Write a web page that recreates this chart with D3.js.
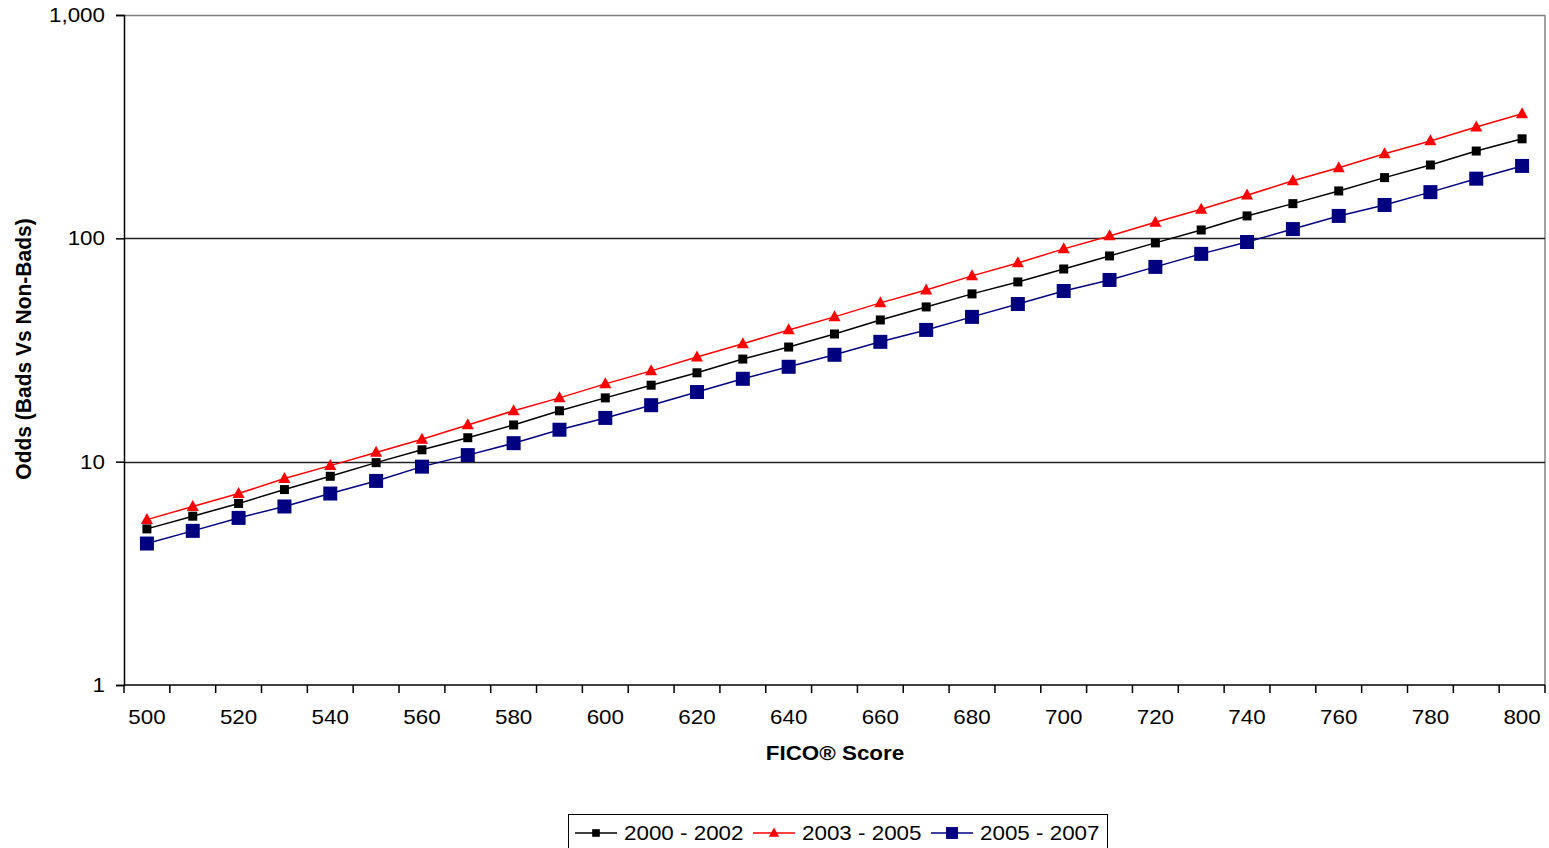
<!DOCTYPE html>
<html><head><meta charset="utf-8">
<script src="https://cdn.jsdelivr.net/npm/d3@7"></script>
<style>body{margin:0;background:#fff}svg{display:block}text{font-family:"Liberation Sans",Arial,sans-serif}</style>
</head><body><svg id="c" width="1549" height="848"></svg>
<script>
const scores = [500,510,520,530,540,550,560,570,580,590,600,610,620,630,640,650,660,670,680,690,700,710,720,730,740,750,760,770,780,790,800];
const odds2000 = [5.0,5.7,6.5,7.5,8.6,9.9,11.3,12.8,14.6,16.9,19.3,22.0,25.0,28.8,32.6,37.3,43.1,49.3,56.4,63.8,72.9,83.4,95.4,109,126,143,163,187,213,246,279];
const odds2003 = [5.5,6.3,7.2,8.4,9.6,11.0,12.6,14.6,16.9,19.3,22.3,25.5,29.4,33.7,38.9,44.5,51.4,58.7,67.9,77.6,89.7,102.5,118,135,156,181,207,239,273,315,361];
const odds2005 = [4.3,4.9,5.6,6.3,7.2,8.2,9.5,10.7,12.1,13.9,15.7,17.9,20.5,23.5,26.6,30.1,34.4,38.9,44.5,50.8,58.1,65.1,74.5,85.2,96.3,110,126,141,161,185,211];
const seriesNames = ["2000 - 2002","2003 - 2005","2005 - 2007"];
const yTicks = [1,10,100,1000];
const xLabels = [500,520,540,560,580,600,620,640,660,680,700,720,740,760,780,800];

const svg = d3.select("#c");
const L=124, R=1545, T=15, B=685;
const SX = 1.12;
const x = d3.scaleBand().domain(scores).range([L,R]);
const y = d3.scaleLog().domain([1,1000]).range([B,T]);

function stext(parent, tx, ty, str, anchor, size, bold){
  const g = parent.append("g").attr("transform",`translate(${tx},${ty}) scale(${SX},1)`);
  g.append("text").attr("text-anchor",anchor).attr("font-size",size)
    .attr("font-weight",bold?"bold":"normal").attr("fill","#000").text(str);
  return g;
}

// plot border (top/right gray)
svg.append("line").attr("x1",L).attr("x2",R).attr("y1",T+0.5).attr("y2",T+0.5).attr("stroke","#808080").attr("stroke-width",1.5);
svg.append("line").attr("x1",R).attr("x2",R).attr("y1",T).attr("y2",B).attr("stroke","#808080").attr("stroke-width",1.5);

// gridlines
svg.append("g").selectAll("line").data([10,100]).join("line")
  .attr("x1",L).attr("x2",R).attr("y1",d=>Math.round(y(d))+0.5).attr("y2",d=>Math.round(y(d))+0.5)
  .attr("stroke","#222").attr("stroke-width",1.4);

// y axis
const ya = svg.append("g").attr("transform",`translate(${L},0)`)
  .call(d3.axisLeft(y).tickValues(yTicks).tickFormat("").tickSize(8));
ya.select(".domain").attr("stroke","#000").attr("stroke-width",1.5);
ya.selectAll(".tick line").attr("stroke","#000").attr("stroke-width",1.5);
yTicks.forEach(v=>stext(svg, 105, y(v)+7, d3.format(",")(v), "end", 20, false));

// x axis: ticks at category boundaries
const xa = svg.append("g").attr("transform",`translate(0,${B})`);
xa.append("line").attr("x1",L).attr("x2",R).attr("stroke","#000").attr("stroke-width",1.5);
const bounds = scores.map(s=>x(s)).concat([R]);
xa.selectAll("line.t").data(bounds).join("line").attr("class","t")
  .attr("x1",d=>d).attr("x2",d=>d).attr("y1",0).attr("y2",8).attr("stroke","#000").attr("stroke-width",1.5);
xLabels.forEach(d=>stext(xa, x(d)+x.bandwidth()/2, 39, d, "middle", 20, false));

// axis titles
stext(svg, 835, 760, "FICO® Score", "middle", 20, true);
svg.append("text").attr("transform","translate(31,349) rotate(-90) scale(1.05,1.1)").attr("text-anchor","middle")
  .attr("font-size",20).attr("font-weight","bold").text("Odds (Bads Vs Non-Bads)");

// series
const cx = d=>x(d)+x.bandwidth()/2;
const series = [
  {name:seriesNames[0], vals:odds2000, color:"#000000", shape:"sq", size:9},
  {name:seriesNames[1], vals:odds2003, color:"#FF0000", shape:"tri", size:11},
  {name:seriesNames[2], vals:odds2005, color:"#000080", shape:"sq", size:14}
];
const line = d3.line().x(d=>cx(d[0])).y(d=>y(d[1]));
function marker(g, shape, size, color){
  if(shape==="sq") g.append("rect").attr("x",-size/2).attr("y",-size/2).attr("width",size).attr("height",size).attr("fill",color);
  else g.append("path").attr("d",`M0,${-size*0.6}L${size*0.55},${size*0.4}L${-size*0.55},${size*0.4}Z`).attr("fill",color);
}
series.forEach(s=>{
  const pts = scores.map((sc,i)=>[sc,s.vals[i]]);
  svg.append("path").datum(pts).attr("d",line).attr("fill","none").attr("stroke",s.color).attr("stroke-width",1.5);
  svg.append("g").selectAll("g").data(pts).join("g")
    .attr("transform",d=>`translate(${cx(d[0])},${y(d[1])})`)
    .each(function(){ marker(d3.select(this), s.shape, s.size, s.color); });
});

// legend
const lg = svg.append("g");
lg.append("rect").attr("x",568.5).attr("y",814.5).attr("width",539).attr("height",40).attr("fill","#fff").attr("stroke","#000").attr("stroke-width",1);
const lx = [575, 753, 931];
series.forEach((s,i)=>{
  const g = lg.append("g").attr("transform",`translate(${lx[i]},833)`);
  g.append("line").attr("x1",0).attr("x2",42).attr("stroke",s.color).attr("stroke-width",1.5);
  const m = g.append("g").attr("transform","translate(21,0)");
  marker(m, s.shape, s.size*0.85, s.color);
  stext(g, 49, 7, s.name, "start", 20, false);
});
</script></body></html>
